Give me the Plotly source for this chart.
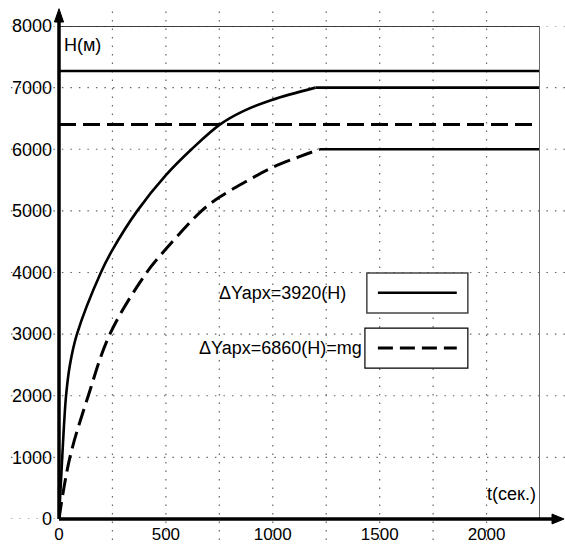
import plotly.graph_objects as go

# ---- data ----
t_solid = [0, 15, 33, 51, 84, 196, 250, 366, 500, 620, 752, 855, 995, 1200]
h_solid = [0, 1000, 2000, 2500, 3000, 4000, 4367, 5000, 5580, 6000, 6400, 6607, 6800, 7000]
t_dash = [0, 51, 137, 238, 410, 500, 667, 750, 875, 1000, 1125, 1220]
h_dash = [0, 1000, 2000, 3000, 4000, 4380, 5000, 5220, 5476, 5709, 5880, 6000]
t_end = 2250
h_top_line = 7270
h_dash_line = 6400
x_ticks = [0, 500, 1000, 1500, 2000]
y_ticks = [0, 1000, 2000, 3000, 4000, 5000, 6000, 7000, 8000]
x_grid = [250 * i for i in range(1, 9)]
y_grid = [1000 * i for i in range(1, 8)]
legend_labels = ["\u0394Yapx=3920(H)", "\u0394Yapx=6860(H)=mg"]
x_title = "t(сек.)"
y_title = "H(м)"

FONT = "Liberation Sans, Arial, sans-serif"
FS = 18
LW = 2.6
DASH = "17px,7px"

fig = go.Figure()

# reference horizontal lines
fig.add_trace(go.Scatter(x=[0, t_end], y=[h_top_line, h_top_line], mode="lines",
                         line=dict(color="black", width=LW), showlegend=False, hoverinfo="skip"))
fig.add_trace(go.Scatter(x=[0, t_end], y=[h_dash_line, h_dash_line], mode="lines",
                         line=dict(color="black", width=3, dash=DASH), showlegend=False, hoverinfo="skip"))
# solid curve
fig.add_trace(go.Scatter(x=t_solid, y=h_solid, mode="lines",
                         line=dict(color="black", width=LW, shape="spline", smoothing=1.0),
                         showlegend=False))
# plateau of solid curve
fig.add_trace(go.Scatter(x=[t_solid[-1], t_end], y=[h_solid[-1], h_solid[-1]], mode="lines",
                         line=dict(color="black", width=LW), showlegend=False))
# dashed curve
fig.add_trace(go.Scatter(x=t_dash, y=h_dash, mode="lines",
                         line=dict(color="black", width=3, dash=DASH, shape="spline", smoothing=1.0),
                         showlegend=False))
# plateau of dashed curve (drawn solid)
fig.add_trace(go.Scatter(x=[t_dash[-1], t_end], y=[h_dash[-1], h_dash[-1]], mode="lines",
                         line=dict(color="black", width=LW), showlegend=False))

GRID = dict(color="#666", width=1.2, dash="1.5px,7px")
shapes = []
# extended dotted grid
for gx in x_grid:
    shapes.append(dict(type="line", xref="x", yref="paper", x0=gx, x1=gx, y0=-0.06, y1=1.04,
                       line=GRID, layer="below"))
for gy in y_grid + [8000]:
    shapes.append(dict(type="line", xref="paper", yref="y", x0=-0.1, x1=1.06, y0=gy, y1=gy,
                       line=GRID, layer="below"))
shapes.append(dict(type="line", xref="paper", yref="y", x0=-0.1, x1=0, y0=0, y1=0,
                   line=GRID, layer="below"))
# frame: top and right
shapes.append(dict(type="line", xref="x", yref="y", x0=0, x1=t_end, y0=8000, y1=8000,
                   line=dict(color="black", width=1.5)))
shapes.append(dict(type="line", xref="x", yref="paper", x0=t_end, x1=t_end, y0=0, y1=1,
                   line=dict(color="#666", width=2)))
# axes
shapes.append(dict(type="line", xref="paper", yref="paper", x0=0, x1=1.03, y0=0, y1=0,
                   line=dict(color="black", width=3.5)))
shapes.append(dict(type="line", xref="paper", yref="paper", x0=0, x1=0, y0=0, y1=1.015,
                   line=dict(color="black", width=3.5)))
# arrow heads
shapes.append(dict(type="path", xref="paper", yref="paper",
                   path="M 1.05 0 L 1.025 0.010 L 1.025 -0.010 Z",
                   fillcolor="black", line=dict(color="black", width=1)))
shapes.append(dict(type="path", xref="paper", yref="paper",
                   path="M 0 1.035 L -0.0095 1.008 L 0.0095 1.008 Z",
                   fillcolor="black", line=dict(color="black", width=1)))

# legend boxes
box1 = (0.640, 0.850, 0.418, 0.499)
box2 = (0.636, 0.850, 0.306, 0.387)
shapes.append(dict(type="rect", xref="paper", yref="paper", x0=box1[0], x1=box1[1], y0=box1[2], y1=box1[3],
                   line=dict(color="#444", width=1.5), fillcolor="white"))
shapes.append(dict(type="rect", xref="paper", yref="paper", x0=box2[0], x1=box2[1], y0=box2[2], y1=box2[3],
                   line=dict(color="black", width=1.2), fillcolor="white"))
shapes.append(dict(type="line", xref="paper", yref="paper", x0=0.663, x1=0.827, y0=0.459, y1=0.459,
                   line=dict(color="black", width=LW)))
shapes.append(dict(type="line", xref="paper", yref="paper", x0=0.663, x1=0.827, y0=0.347, y1=0.347,
                   line=dict(color="black", width=3, dash="15px,7px")))

annotations = [
    dict(xref="paper", yref="paper", x=0.601, y=0.459, text=legend_labels[0], showarrow=False,
         xanchor="right", yanchor="middle", font=dict(family=FONT, size=FS, color="black")),
    dict(xref="paper", yref="paper", x=0.634, y=0.347, text=legend_labels[1], showarrow=False,
         xanchor="right", yanchor="middle", font=dict(family=FONT, size=FS, color="black")),
    dict(xref="paper", yref="paper", x=0.006, y=0.962, text=y_title, showarrow=False,
         xanchor="left", yanchor="middle", font=dict(family=FONT, size=FS, color="black")),
    dict(xref="paper", yref="paper", x=0.996, y=0.050, text=x_title, showarrow=False,
         xanchor="right", yanchor="middle", font=dict(family=FONT, size=FS, color="black")),
]

fig.update_layout(
    width=565, height=546,
    margin=dict(l=59, r=25, t=26, b=27),
    paper_bgcolor="white", plot_bgcolor="rgba(0,0,0,0)",
    font=dict(family=FONT, size=FS, color="black"),
    showlegend=False,
    shapes=shapes,
    annotations=annotations,
    xaxis=dict(range=[0, t_end], tickvals=x_ticks, showgrid=False, zeroline=False,
               showline=False, ticks="", ticklabelstandoff=3, automargin=False,
               tickfont=dict(family=FONT, size=17, color="black")),
    yaxis=dict(range=[0, 8000], tickvals=y_ticks, showgrid=False, zeroline=False,
               showline=False, ticks="", ticklabelstandoff=6, automargin=False),
)

fig.write_html("out.html")
